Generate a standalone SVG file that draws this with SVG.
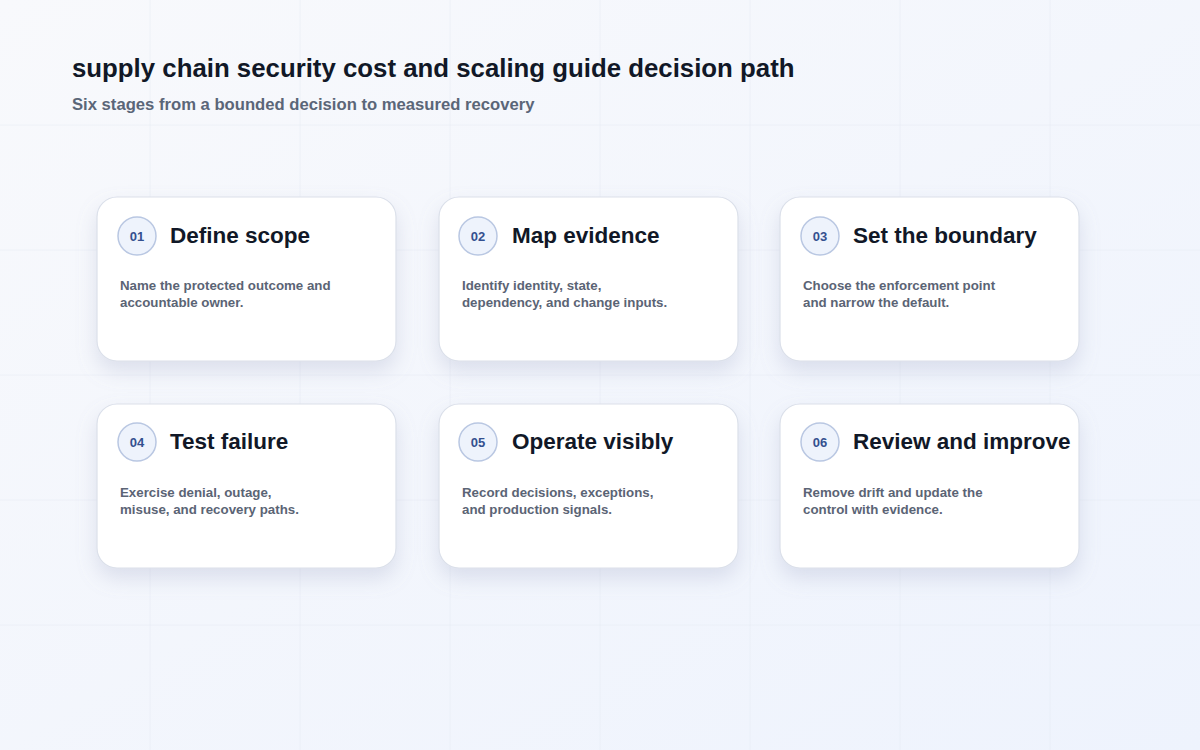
<svg xmlns="http://www.w3.org/2000/svg" width="1200" height="750" viewBox="0 0 1200 750">
<defs>
<linearGradient id="bg" x1="0" y1="0" x2="1" y2="1">
<stop offset="0" stop-color="#f8f9fc"/>
<stop offset="1" stop-color="#eef3fd"/>
</linearGradient>
<filter id="sh" x="-20%" y="-20%" width="140%" height="160%">
<feDropShadow dx="0" dy="10" stdDeviation="10" flood-color="#8a94b8" flood-opacity="0.24"/>
</filter>
<style>
.grid{stroke:#e3e8f1;stroke-width:1;opacity:0.45}
.card{fill:#ffffff;stroke:#dbe0ea;stroke-width:1.2;filter:url(#sh)}
.badge{fill:#eef3fc;stroke:#b9c7e2;stroke-width:1.5}
.num{font-family:"Liberation Sans",Arial,sans-serif;font-size:13px;font-weight:700;fill:#34508f;text-anchor:middle}
.ttl{font-family:"Liberation Sans",Arial,sans-serif;font-size:22.5px;font-weight:700;fill:#111827}
.desc{font-family:"Liberation Sans",Arial,sans-serif;font-size:13.3px;font-weight:700;fill:#5b6475}
</style>
</defs>
<rect width="1200" height="750" fill="url(#bg)"/>
<g id="grid">
<line class="grid" x1="150" y1="0" x2="150" y2="750"/>
<line class="grid" x1="300" y1="0" x2="300" y2="750"/>
<line class="grid" x1="450" y1="0" x2="450" y2="750"/>
<line class="grid" x1="600" y1="0" x2="600" y2="750"/>
<line class="grid" x1="750" y1="0" x2="750" y2="750"/>
<line class="grid" x1="900" y1="0" x2="900" y2="750"/>
<line class="grid" x1="1050" y1="0" x2="1050" y2="750"/>
<line class="grid" x1="0" y1="125" x2="1200" y2="125"/>
<line class="grid" x1="0" y1="250" x2="1200" y2="250"/>
<line class="grid" x1="0" y1="375" x2="1200" y2="375"/>
<line class="grid" x1="0" y1="500" x2="1200" y2="500"/>
<line class="grid" x1="0" y1="625" x2="1200" y2="625"/>
</g>
<g id="header">
<text x="72" y="77" font-family="'Liberation Sans',Arial,sans-serif" font-size="25.8" font-weight="700" fill="#111827">supply chain security cost and scaling guide decision path</text>
<text x="72" y="110" font-family="'Liberation Sans',Arial,sans-serif" font-size="16.65" font-weight="700" fill="#5b6678">Six stages from a bounded decision to measured recovery</text>
</g>
<g id="connectors"></g>
<g id="node-01">
<rect class="card" x="97" y="197" width="299" height="164" rx="20"/>
<circle class="badge" cx="137" cy="236" r="19"/>
<text class="num" x="137" y="241">01</text>
<text class="ttl" x="170" y="243">Define scope</text>
<text class="desc" x="120" y="290">Name the protected outcome and</text>
<text class="desc" x="120" y="307">accountable owner.</text>
</g>
<g id="node-02">
<rect class="card" x="439" y="197" width="299" height="164" rx="20"/>
<circle class="badge" cx="478" cy="236" r="19"/>
<text class="num" x="478" y="241">02</text>
<text class="ttl" x="512" y="243">Map evidence</text>
<text class="desc" x="462" y="290">Identify identity, state,</text>
<text class="desc" x="462" y="307">dependency, and change inputs.</text>
</g>
<g id="node-03">
<rect class="card" x="780" y="197" width="299" height="164" rx="20"/>
<circle class="badge" cx="820" cy="236" r="19"/>
<text class="num" x="820" y="241">03</text>
<text class="ttl" x="853" y="243">Set the boundary</text>
<text class="desc" x="803" y="290">Choose the enforcement point</text>
<text class="desc" x="803" y="307">and narrow the default.</text>
</g>
<g id="node-04">
<rect class="card" x="97" y="404" width="299" height="164" rx="20"/>
<circle class="badge" cx="137" cy="442" r="19"/>
<text class="num" x="137" y="447">04</text>
<text class="ttl" x="170" y="449">Test failure</text>
<text class="desc" x="120" y="497">Exercise denial, outage,</text>
<text class="desc" x="120" y="514">misuse, and recovery paths.</text>
</g>
<g id="node-05">
<rect class="card" x="439" y="404" width="299" height="164" rx="20"/>
<circle class="badge" cx="478" cy="442" r="19"/>
<text class="num" x="478" y="447">05</text>
<text class="ttl" x="512" y="449">Operate visibly</text>
<text class="desc" x="462" y="497">Record decisions, exceptions,</text>
<text class="desc" x="462" y="514">and production signals.</text>
</g>
<g id="node-06">
<rect class="card" x="780" y="404" width="299" height="164" rx="20"/>
<circle class="badge" cx="820" cy="442" r="19"/>
<text class="num" x="820" y="447">06</text>
<text class="ttl" x="853" y="449">Review and improve</text>
<text class="desc" x="803" y="497">Remove drift and update the</text>
<text class="desc" x="803" y="514">control with evidence.</text>
</g>
</svg>
